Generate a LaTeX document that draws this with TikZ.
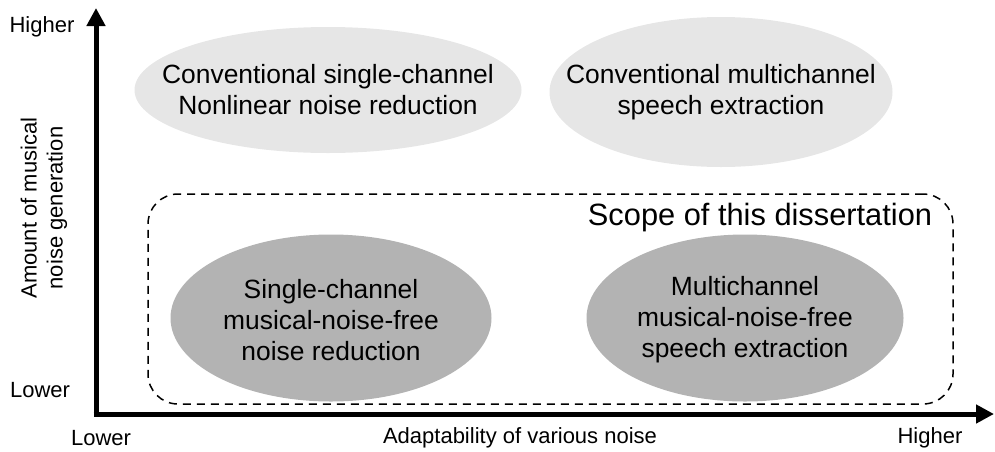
\documentclass[tikz,border=0pt]{standalone}
\usepackage{fontspec}
\setmainfont{Liberation Sans}
\usetikzlibrary{arrows.meta,positioning}

\definecolor{lightgrey}{HTML}{E6E6E6}
\definecolor{darkgrey}{HTML}{B3B3B3}

\begin{document}
\begin{tikzpicture}[x=0.5pt,y=-0.5pt]
			\useasboundingbox (0,0) rectangle (995,451);
			% Define the label styles
			\tikzstyle{method} = [inner sep=0pt, align=center, font=\fontsize{13.2}{15.5}\selectfont];
			\tikzstyle{axislabel} = [inner sep=0pt, font=\fontsize{11}{13}\selectfont];
			
			% Scope of the work
			\node[draw, dashed, dash pattern=on 4pt off 3pt, line width=0.75pt, rounded corners=15pt,
				minimum width=402.5pt, minimum height=105pt, inner sep=0pt] (scope) at (550.5,299) {};
			\node[inner sep=0pt, font=\fontsize{15.4}{18}\selectfont] (scopetitle) at (760,218) {Scope of this dissertation};
			
			% Ellipses: center x/y, half width, half height, colour
			\foreach \x/\y/\rx/\ry/\col in {328/90/193.5/63/lightgrey, 721/92/171.5/75/lightgrey,
				331/318/160.5/83.5/darkgrey, 745/318/158.5/83.5/darkgrey}
			\fill[\col] (\x,\y) ellipse [x radius=\rx, y radius=\ry];
			
			% Conventional methods
			\node[method] (convsingle) at (328,90) {Conventional single-channel\\Nonlinear noise reduction};
			\node[method] (convmulti) at (721,92) {Conventional multichannel\\speech extraction};
			
			% Proposed methods
			\node[method] (mnfsingle) at (331,320) {Single-channel\\musical-noise-free\\noise reduction};
			\node[method] (mnfmulti) at (745,320) {Multichannel\\musical-noise-free\\speech extraction};
			
			% Axes
			\coordinate (origin) at (96,414);
			\coordinate (ytop) at (96,8);
			\coordinate (xend) at (994,414);
			\draw[line width=2.5pt, -{Triangle[length=9pt,width=9pt]}] (origin) -- (ytop);
			\draw[line width=2.5pt, -{Triangle[length=9pt,width=9pt]}] ([xshift=-1.25pt]origin) -- (xend);
			
			% Axis labels
			\foreach \name/\x/\y/\txt in {yhigh/42/27/Higher, ylow/40/390/Lower, xlow/101/438/Lower, xhigh/930/438/Higher}
			\node[axislabel] (\name) at (\x,\y) {\txt};
			\node[axislabel] (xtitle) at (520,438) {Adaptability of various noise};
			\node[axislabel, rotate=90, align=center] (ytitle) at (44,208) {Amount of musical\\noise generation};
		\end{tikzpicture}
\end{document}
